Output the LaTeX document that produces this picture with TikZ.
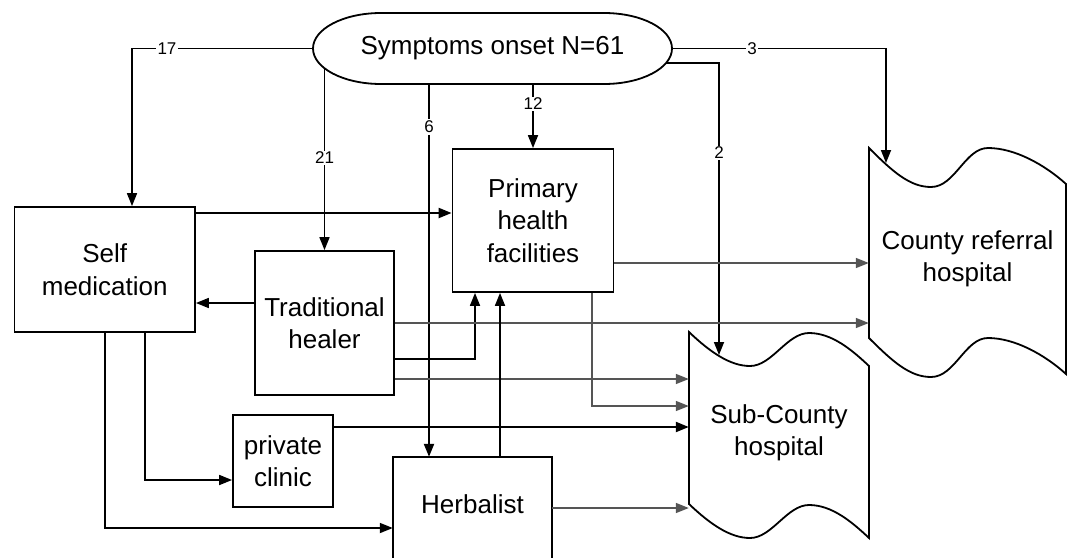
\documentclass[tikz,border=0pt]{standalone}
\usepackage{fontspec}
\setmainfont{Liberation Sans}
\usetikzlibrary{arrows.meta,calc}
\definecolor{linegray}{RGB}{85,85,85}
\begin{document}
\begin{tikzpicture}[x=1pt,y=-1pt,
  boxline/.style={draw=black,line width=1.8pt},
  box/.style={boxline,rectangle,align=center,font=\fontsize{26}{32.5}\selectfont,inner sep=0pt},
  txt/.style={rectangle,align=center,font=\fontsize{26}{32.5}\selectfont,inner sep=0pt},
  barrow/.style={line width=1.7pt,draw=black,-{Triangle[length=13pt,width=10pt]}},
  tarrow/.style={barrow,line width=2.1pt},
  garrow/.style={line width=1.5pt,draw=linegray,-{Triangle[length=13pt,width=10pt]}},
  lbl/.style={fill=white,inner sep=1.5pt,font=\fontsize{17}{17}\selectfont}]
\useasboundingbox (0,0) rectangle (1073,557);
\clip (0,0) rectangle (1073,557);

% nodes
\node[txt,minimum width=359pt,minimum height=71pt] (sym) at (492.5,48.5) {Symptoms onset N=61};
\draw[boxline] (381,13) -- (604,13) arc[start angle=90,end angle=-90,x radius=68pt,y radius=35.5pt]
  -- (381,84) arc[start angle=-90,end angle=-270,x radius=68pt,y radius=35.5pt] -- cycle;

\node[box,minimum width=180.5pt,minimum height=125pt] (sm) at (104.75,269.5) {Self\\medication};
\node[box,minimum width=139pt,minimum height=144pt] (th) at (324.5,323) {Traditional\\healer};
\node[box,minimum width=161pt,minimum height=143pt] (ph) at (533,220.5) {Primary\\health\\facilities};
\node[box,minimum width=100pt,minimum height=92pt] (pc) at (283,461) {private\\clinic};
\node[txt,minimum width=159pt,minimum height=94pt] (hb) at (472.5,504) {Herbalist};
\draw[boxline] (hb.north west) rectangle ([yshift=-30pt]hb.south east);

\node[txt,minimum width=197pt,minimum height=190pt] (cr) at (967.5,259) {County referral\\hospital};
\draw[boxline] (869,148) .. controls (893,172) and (910,187) .. (931,187)
  .. controls (955,187) and (965,148) .. (988,148)
  .. controls (1015,148) and (1045,165) .. (1066,184)
  -- (1066,374) .. controls (1045,355) and (1015,338) .. (988,338)
  .. controls (965,338) and (955,377) .. (931,377)
  .. controls (910,377) and (893,362) .. (869,338) -- cycle;

\node[txt,minimum width=180pt,minimum height=180pt] (sc) at (779,433) {Sub-County\\hospital};
\draw[boxline] (689,332) .. controls (710,352) and (730,366) .. (750,366)
  .. controls (772,366) and (787,333) .. (809,333)
  .. controls (832,333) and (852,350) .. (869,366)
  -- (869,538) .. controls (852,522) and (832,505) .. (809,505)
  .. controls (787,505) and (772,538) .. (750,538)
  .. controls (730,538) and (710,524) .. (689,504) -- cycle;

% connection points on curved outlines
\coordinate (s21) at (324.5,68.5);
\coordinate (s2) at (666,63);
\coordinate (sc2) at (719,355);
\coordinate (cr3) at (886,163);

% connectors from symptoms onset
\draw[barrow] (sym.west) -| ([xshift=27.25pt]sm.north);
\draw[barrow] (s21) -- (th.north);
\draw[tarrow] ([xshift=-63.5pt]sym.south) -- ([xshift=-43.5pt]hb.north);
\draw[barrow] (sym.south -| ph.north) -- (ph.north);
\draw[barrow] (s2) -| (sc2);
\draw[barrow] (sym.east) -| (cr3);

% other connectors
\draw[tarrow] ([yshift=56.5pt]sm.east) -- ([yshift=56.5pt]sm.east -| ph.west);
\draw[barrow] ([yshift=20pt]th.west) -- ([yshift=20pt]th.west -| sm.east);
\draw[barrow] ([yshift=-36pt]th.east) -| ([xshift=-58pt]ph.south);
\draw[garrow] (th.east) -- (th.east -| cr.west);
\draw[garrow] ([yshift=-56pt]th.east) -- ([yshift=-56pt]th.east -| sc.west);
\draw[garrow] ([yshift=-42.5pt]ph.east) -- ([yshift=-42.5pt]ph.east -| cr.west);
\draw[garrow] ([xshift=59pt]ph.south) |- ([yshift=27pt]sc.west);
\draw[tarrow] ([yshift=34pt]pc.east) -- ([yshift=34pt]pc.east -| sc.west);
\draw[barrow] ([xshift=27.5pt]hb.north) -- ([xshift=27.5pt]hb.north |- ph.south);
\draw[garrow] ([yshift=-4pt]hb.east) -- ([yshift=-4pt]hb.east -| sc.west);
\draw[barrow] ([xshift=40pt]sm.south) |- ([yshift=-19pt]pc.west);
\draw[barrow] (sm.south) |- ([yshift=-24pt]hb.west);

% labels
\node[lbl] (l17) at (167,49) {17};
\node[lbl] (l21) at (324.5,158) {21};
\node[lbl] (l6) at (429,127) {6};
\node[lbl] (l12) at (533,104) {12};
\node[lbl] (l2) at (719,153) {2};
\node[lbl] (l3) at (752,49) {3};
\end{tikzpicture}
\end{document}
